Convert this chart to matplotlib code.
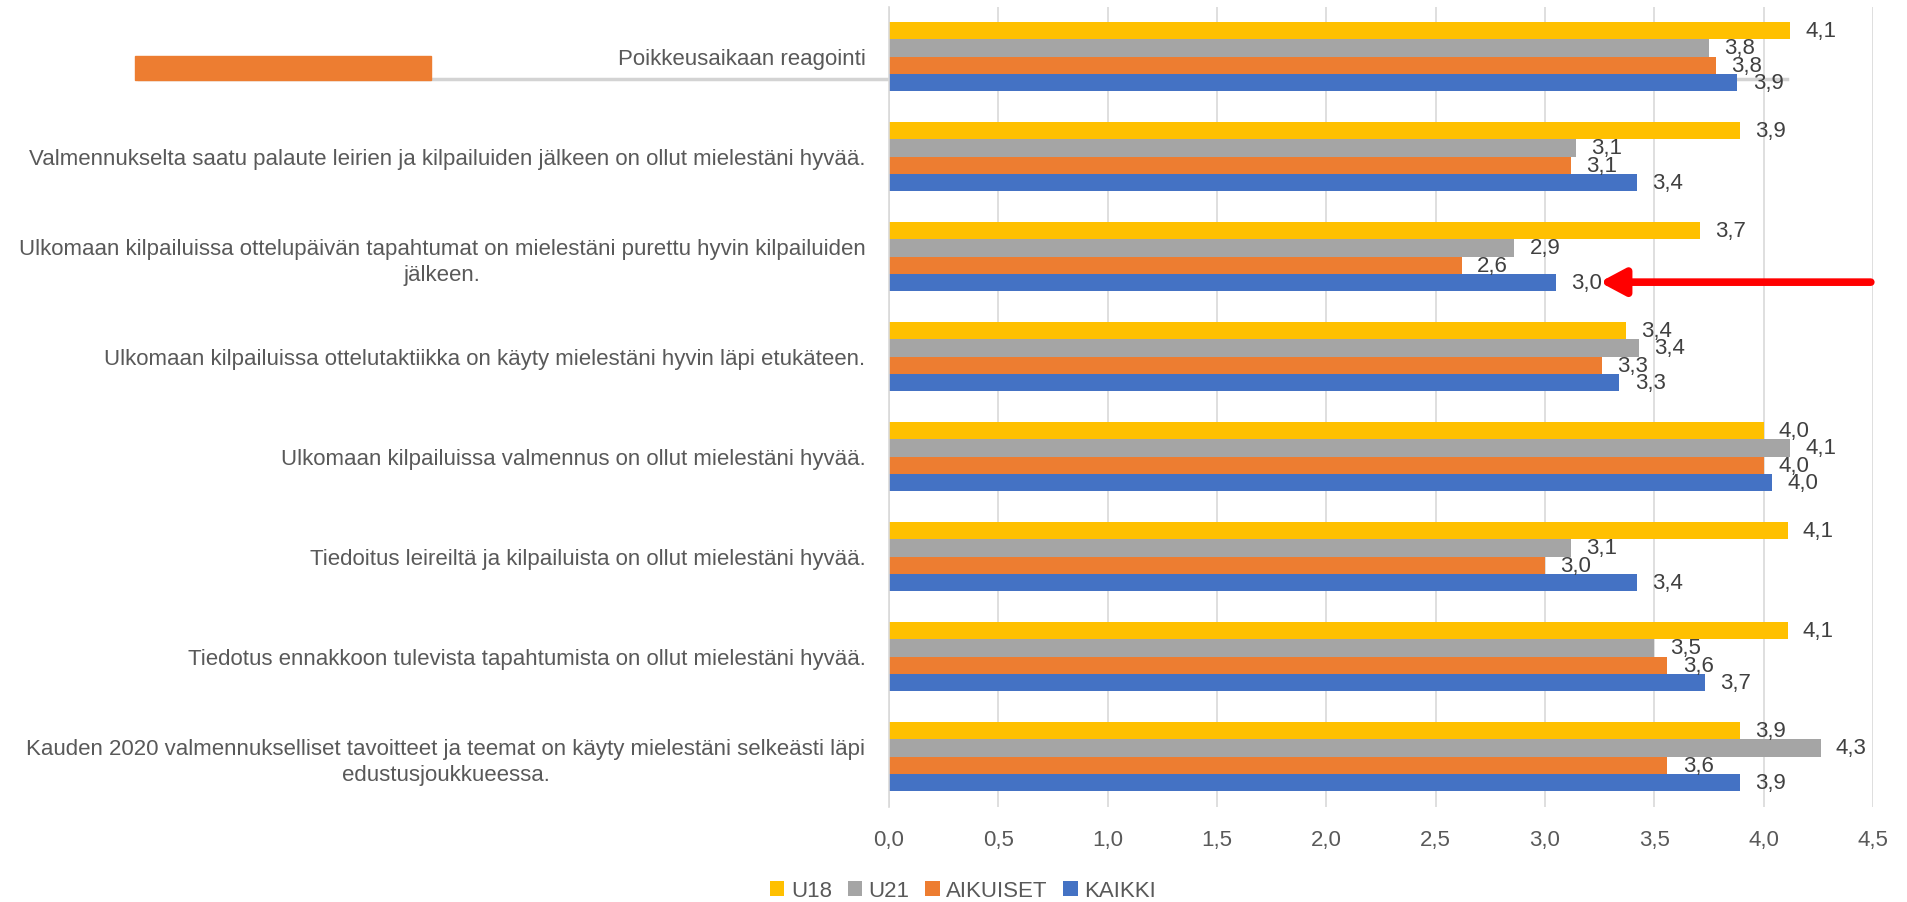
import numpy as np
import matplotlib
matplotlib.use("Agg")
import matplotlib.pyplot as plt
from matplotlib.patches import Rectangle
from matplotlib.lines import Line2D

plt.rcParams['font.family'] = ['Liberation Sans', 'DejaVu Sans']

categories = [
    "Poikkeusaikaan reagointi",
    "Valmennukselta saatu palaute leirien ja kilpailuiden jälkeen on ollut mielestäni hyvää.",
    "Ulkomaan kilpailuissa ottelupäivän tapahtumat on mielestäni purettu hyvin kilpailuiden\njälkeen.",
    "Ulkomaan kilpailuissa ottelutaktiikka on käyty mielestäni hyvin läpi etukäteen.",
    "Ulkomaan kilpailuissa valmennus on ollut mielestäni hyvää.",
    "Tiedoitus leireiltä ja kilpailuista on ollut mielestäni hyvää.",
    "Tiedotus ennakkoon tulevista tapahtumista on ollut mielestäni hyvää.",
    "Kauden 2020 valmennukselliset tavoitteet ja teemat on käyty mielestäni selkeästi läpi\nedustusjoukkueessa.",
]

series_names = ["U18", "U21", "AIKUISET", "KAIKKI"]
u18 = [4.12, 3.89, 3.71, 3.37, 4.00, 4.11, 4.11, 3.89]
u21 = [3.75, 3.14, 2.86, 3.43, 4.12, 3.12, 3.50, 4.26]
aikuiset = [3.78, 3.12, 2.62, 3.26, 4.00, 3.00, 3.56, 3.56]
kaikki = [3.88, 3.42, 3.05, 3.34, 4.04, 3.42, 3.73, 3.89]
colors = ["#FFC000", "#A5A5A5", "#ED7D31", "#4472C4"]

xticks = np.arange(0, 4.51, 0.5)

FS = 16
TXT = "#595959"
LBL = "#404040"

fig = plt.figure(figsize=(19.07, 9.03), dpi=100)
ax = fig.add_axes([889 / 1907, 95.5 / 903, 984 / 1907, 800 / 903])
ax.set_facecolor("none")

y = np.arange(len(categories))
h = 0.171
data = [u18, u21, aikuiset, kaikki]
for i, (name, vals, c) in enumerate(zip(series_names, data, colors)):
    bars = ax.barh(y + (i - 1.5) * h, vals, height=h, color=c, label=name, zorder=2)
    ax.bar_label(bars, fmt=lambda v: f"{v:.1f}".replace(".", ","), padding=11,
                 fontsize=FS, color=LBL)

ax.set_xlim(0, 4.5)
ax.set_ylim(len(categories) - 0.5, -0.5)
ax.set_xticks(xticks)
ax.set_xticklabels([f"{t:.1f}".replace(".", ",") for t in xticks], fontsize=FS, color=TXT)
ax.set_yticks(y)
ax.set_yticklabels(categories, fontsize=FS, color=TXT, linespacing=1.3)
for lab in ax.get_yticklabels():
    lab.set_multialignment("center")
ax.tick_params(axis="both", length=0)
ax.tick_params(axis="y", pad=17)
ax.tick_params(axis="x", pad=16)
ax.xaxis.grid(True, color="#D9D9D9", lw=1.2, zorder=0)
ax.set_axisbelow(True)
for s in ["top", "right", "bottom"]:
    ax.spines[s].set_visible(False)
ax.spines["left"].set_color("#D9D9D9")
ax.spines["left"].set_linewidth(1.2)

# red arrow pointing at the KAIKKI value of the third question
ax.annotate("", xy=(3.25, 2 + 1.5 * h), xytext=(4.49, 2 + 1.5 * h),
            arrowprops=dict(arrowstyle="-|>,head_length=1.5,head_width=0.8",
                            color="#FF0000", lw=5.5, shrinkA=0, shrinkB=0),
            zorder=5)

# stray shapes at top left
fig.add_artist(Line2D([139 / 1907, 1787 / 1907], [1 - 80 / 903, 1 - 80 / 903],
                      color="#D3D3D3", lw=2.5, zorder=-1))
fig.add_artist(Rectangle((135 / 1907, 1 - 81 / 903), 296 / 1907, 24 / 903,
                         color="#ED7D31", transform=fig.transFigure, zorder=3))

fig.legend(loc="center", bbox_to_anchor=(0.505, 11 / 903), ncol=4, frameon=False,
           fontsize=FS, handlelength=0.65, handleheight=0.65, handletextpad=0.3,
           columnspacing=0.7, labelcolor=TXT)

plt.savefig("out.png", dpi=100)
